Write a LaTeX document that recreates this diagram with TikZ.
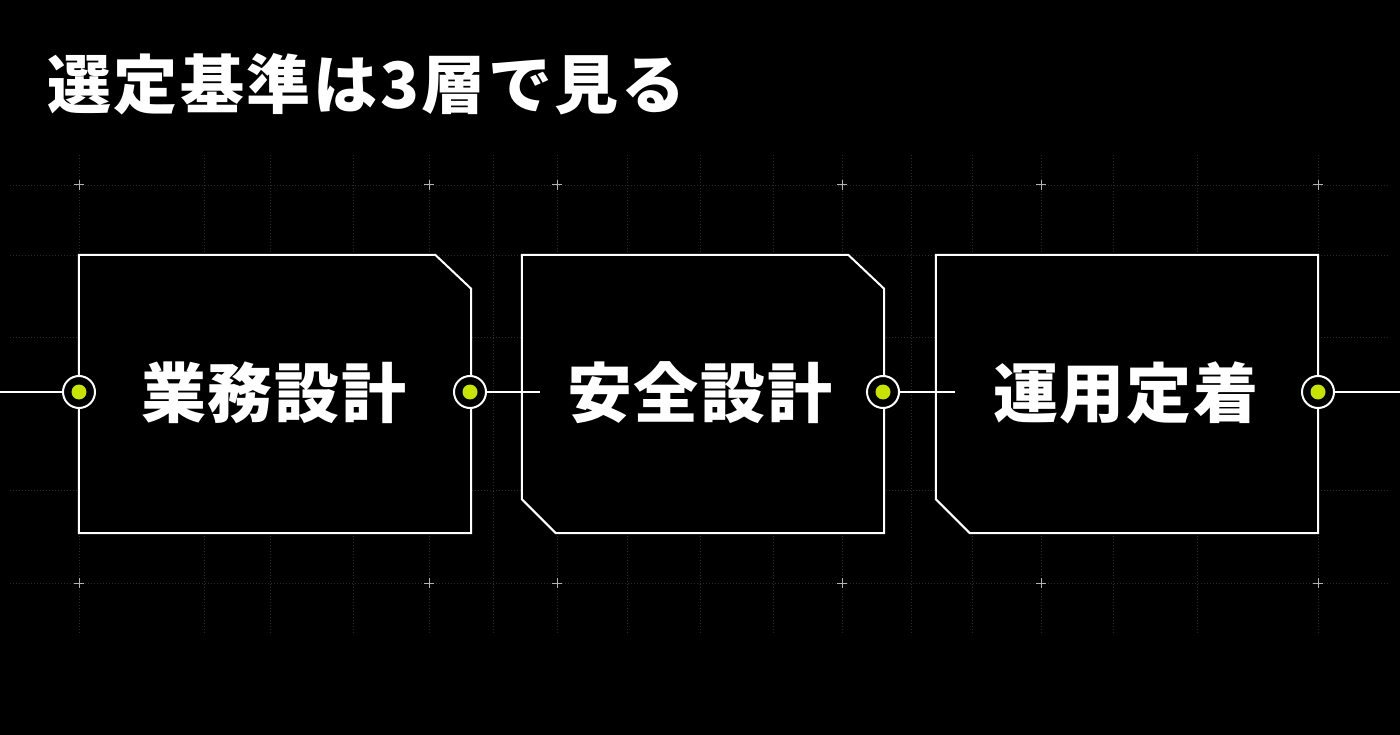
\documentclass[tikz,border=0pt]{standalone}
\usepackage{fontspec}
\newfontfamily\jptitle{Noto Sans CJK JP}[LetterSpace=4]
\newfontfamily\jplabel{Noto Sans CJK JP}[LetterSpace=3]
\usetikzlibrary{positioning}
\definecolor{lime}{HTML}{C6E400}
\definecolor{gridgray}{HTML}{2A2A2A}
\tikzset{
  layer_t/.style = {font=\jptitle\bfseries\fontsize{64}{64}\selectfont, white,
    inner sep=0pt},% titre
  layer_l/.style = {font=\jplabel\bfseries\fontsize{65}{65}\selectfont, white,
    inner sep=0pt},% nom de la couche
  layer_b/.style = {rectangle, inner sep=0pt, minimum width=#1,
    minimum height=278pt},% cadre de la couche
  box_line/.style = {draw=white, line width=2pt, fill=black},
  port_o/.style = {circle, draw=white, line width=2pt, fill=black,
    minimum size=32pt, inner sep=0pt},% port, anneau
  port_i/.style = {circle, fill=lime, minimum size=15pt, inner sep=0pt},% port, point
  link/.style = {draw=white, line width=1.6pt},
  grid_l/.style = {gridgray, line width=0.8pt, dash pattern=on 1pt off 2pt},
  mark_p/.style = {white!70!black, line width=1pt}
}
\begin{document}
\begin{tikzpicture}[x=1pt,y=-1pt]
\useasboundingbox (0,0) rectangle (1400,735);
\fill[black] (0,0) rectangle (1400,735);
% grille
\foreach \gx in {79,204,270,353,429,493,557,627,700,773,842,911,972,1041,1113,1197,1318}
  \draw[grid_l] (\gx,155) -- (\gx,635);
\foreach \gy in {185,255,337,490,583}
  \draw[grid_l] (10,\gy) -- (1390,\gy);
\foreach \gx in {79,429,557,842,1041,1318}
  \foreach \gy in {185,583}
    \draw[mark_p] (\gx-5,\gy) -- (\gx+5,\gy) (\gx,\gy-5) -- (\gx,\gy+5);

\node [layer_t, anchor=west] (title) at (47,84) {選定基準は3層で見る};

\node [layer_b=392pt] (b1) at (275,394) {};
\node [layer_b=362pt] (b2) at (703,394) {};
\node [layer_b=382pt] (b3) at (1127,394) {};
\draw [box_line] (b1.north west) -- ([xshift=-36pt]b1.north east)
  -- ([yshift=-34pt]b1.north east) -- (b1.south east) -- (b1.south west) -- cycle;
\draw [box_line] (b2.north west) -- ([xshift=-36pt]b2.north east)
  -- ([yshift=-34pt]b2.north east) -- (b2.south east)
  -- ([xshift=34pt]b2.south west) -- ([yshift=34pt]b2.south west) -- cycle;
\draw [box_line] (b3.north west) -- (b3.north east) -- (b3.south east)
  -- ([xshift=34pt]b3.south west) -- ([yshift=34pt]b3.south west) -- cycle;

\node [layer_l] (t1) at (274,393) {業務設計};
\node [layer_l] (t2) at (700,393) {安全設計};
\node [layer_l] (t3) at (1126,393) {運用定着};

\node [port_o] (p0) at (79,392) {};
\node [port_o] (p1) at (470,392) {};
\node [port_o] (p2) at (883,392) {};
\node [port_o] (p3) at (1318,392) {};
\foreach \k in {0,...,3}
  \node [port_i] (p\k c) at (p\k) {};

\coordinate (in0) at (0,392);
\coordinate (k1) at (540,392);
\coordinate (k2) at (955,392);
\coordinate (out3) at (1400,392);
\draw [link] (in0) -- (p0);
\draw [link] (p1) -- (k1);
\draw [link] (p2) -- (k2);
\draw [link] (p3) -- (out3);
\end{tikzpicture}
\end{document}
